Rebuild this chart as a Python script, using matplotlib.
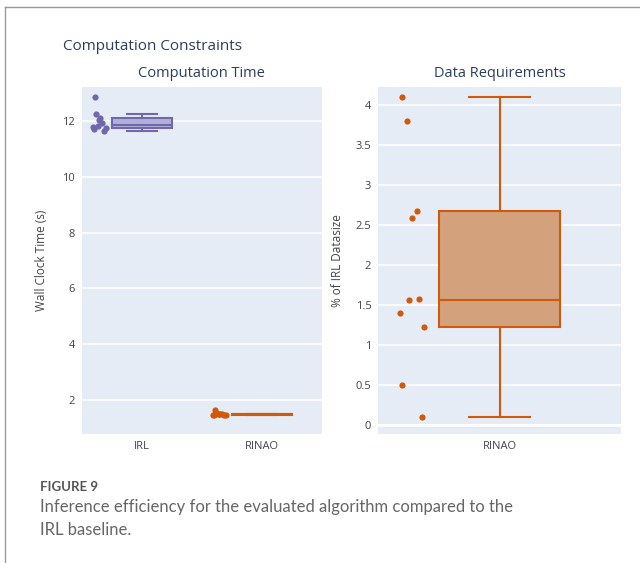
import matplotlib.pyplot as plt
import numpy as np
from matplotlib.lines import Line2D

plt.rcParams['font.family'] = ['Open Sans', 'DejaVu Sans']

# Computation time (s) per run
irl_time = [12.87, 12.24, 12.12, 12.05, 11.92, 11.82, 11.78, 11.75, 11.70, 11.63]
rinao_time = [1.64, 1.55, 1.50, 1.50, 1.49, 1.49, 1.48, 1.48, 1.47, 1.46]
# Data requirement (% of IRL datasize)
rinao_data = [4.10, 3.80, 2.68, 2.59, 1.57, 1.56, 1.40, 1.22, 0.49, 0.10]

time_labels = ['IRL', 'RINAO']
data_labels = ['RINAO']

purple, purple_fill = '#7067ad', '#b2b0d8'
orange, orange_fill = '#cf5a0c', '#d3a27d'
bg = '#e5ecf6'

# jitter offsets for the points drawn beside each box (layout only)
jit_a = [-0.39, -0.38, -0.35, -0.36, -0.33, -0.37, -0.41, -0.30, -0.40, -0.32]
jit_b = [-0.40, -0.38, -0.34, -0.36, -0.33, -0.375, -0.41, -0.31, -0.40, -0.32]


def stats(vals):
    v = np.sort(np.array(vals))
    q1, med, q3 = np.percentile(v, [25, 50, 75], method='hazen')
    iqr = q3 - q1
    lo = v[v >= q1 - 1.5 * iqr].min()
    hi = v[v <= q3 + 1.5 * iqr].max()
    return dict(q1=q1, med=med, q3=q3, whislo=lo, whishi=hi, fliers=[])


def draw_box(ax, vals, pos, color, fill, jit):
    ax.bxp([stats(vals)], positions=[pos], widths=0.5, patch_artist=True,
           showfliers=False, manage_ticks=False,
           boxprops=dict(facecolor=fill, edgecolor=color, linewidth=1.5),
           medianprops=dict(color=color, linewidth=1.5),
           whiskerprops=dict(color=color, linewidth=1.5),
           capprops=dict(color=color, linewidth=1.5), capwidths=0.25)
    ax.scatter(pos + np.array(jit), vals, s=20, color=color, zorder=3, linewidths=0)


def style(ax):
    ax.set_facecolor(bg)
    for s in ax.spines.values():
        s.set_visible(False)
    ax.grid(axis='y', color='white', linewidth=1.1)
    ax.set_axisbelow(True)
    ax.tick_params(length=0, labelsize=8, colors='#444444', pad=5)


fig = plt.figure(figsize=(6.4, 5.63), dpi=100)

# left panel: computation time
ax1 = fig.add_axes([0.128, 0.229, 0.375, 0.6163])
style(ax1)
draw_box(ax1, irl_time, 0, purple, purple_fill, jit_a)
draw_box(ax1, rinao_time, 1, orange, orange_fill, jit_a)
ax1.set_xlim(-0.5, 1.5)
ax1.set_ylim(0.78, 13.22)
ax1.set_yticks([2, 4, 6, 8, 10, 12])
ax1.set_xticks([0, 1], time_labels)
ax1.set_ylabel('Wall Clock Time (s)', fontsize=8.5, color='#444444', labelpad=10)
ax1.set_title('Computation Time', fontsize=10.5, color='#2a3f5f', pad=7)

# right panel: data requirements
ax2 = fig.add_axes([0.591, 0.229, 0.379, 0.6163])
style(ax2)
draw_box(ax2, rinao_data, 0, orange, orange_fill, jit_b)
ax2.axhline(0, color='white', linewidth=2, zorder=0.5)
ax2.set_xlim(-0.5, 0.5)
ax2.set_ylim(-0.12, 4.23)
ax2.set_yticks([0, 0.5, 1, 1.5, 2, 2.5, 3, 3.5, 4], ['0', '0.5', '1', '1.5', '2', '2.5', '3', '3.5', '4'])
ax2.set_xticks([0], data_labels)
ax2.set_ylabel('% of IRL Datasize', fontsize=8.5, color='#444444', labelpad=8)
ax2.set_title('Data Requirements', fontsize=10.5, color='#2a3f5f', pad=7)

fig.text(0.098, 0.917, 'Computation Constraints', fontsize=11, color='#2a3f5f', va='center')

# frame lines and caption
fig.add_artist(Line2D([0.008, 0.008], [0, 0.988], color='#999999', linewidth=1))
fig.add_artist(Line2D([0.008, 1], [0.988, 0.988], color='#999999', linewidth=1))
fig.text(0.062, 0.135, 'FIGURE 9', fontsize=9.5, fontweight='bold', color='#555555',
         family=['Lato', 'DejaVu Sans'], va='center')
fig.text(0.062, 0.099, 'Inference efficiency for the evaluated algorithm compared to the',
         fontsize=12, color='#666666', family=['Lato', 'DejaVu Sans'], va='center')
fig.text(0.062, 0.058, 'IRL baseline.', fontsize=12, color='#666666',
         family=['Lato', 'DejaVu Sans'], va='center')

plt.savefig('out.png', dpi=100)
